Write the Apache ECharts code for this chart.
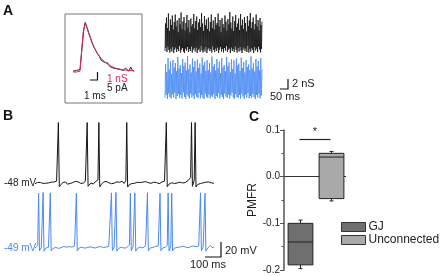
<!DOCTYPE html>
<html>
<head>
<meta charset="utf-8">
<script src="https://cdn.jsdelivr.net/npm/echarts@6/dist/echarts.min.js"></script>
<style>
  html, body { margin: 0; padding: 0; background: #fff; }
  #main { width: 446px; height: 276px; }
</style>
</head>
<body>
<div id="main"></div>
<script>
// A inset: unitary conductance, data (black) and fit (red), 0.25 ms steps
var pscDt = 0.25;
var pscData = [0.1,0.0,0.2,0.1,0.3,2.6,5.0,6.2,5.6,4.9,4.3,3.6,3.1,2.9,2.3,2.0,1.5,1.7,1.2,1.0,
  1.1,0.7,0.8,0.5,0.6,0.4,0.6,0.3,0.4,0.2,0.5,0.3,0.1,0.6,0.2,0.1];
var pscFit = [0,0,0,0,0.1,2.8,5.3,6.1,5.5,4.8,4.2,3.6,3.1,2.7,2.3,2.0,1.7,1.5,1.3,1.1,
  0.95,0.8,0.7,0.6,0.5,0.45,0.4,0.35,0.3,0.27,0.24,0.21,0.2,0.18,0.16,0.15];

// A right: total synaptic conductance (nS)
var gDtBlack = 3;
var gBlack = [
0.6,6.1,1.2,7.3,0.4,5.2,1.5,8.1,0.8,4.6,0.3,6.9,1.1,5.8,0.5,7.7,1.4,4.9,0.2,6.4,
0.9,7.9,1.3,5.5,0.4,6.7,1.0,4.4,0.6,7.2,1.6,5.9,0.3,8.3,0.9,5.0,1.2,6.5,0.5,7.4,
0.2,4.7,1.1,6.2,0.7,7.8,1.4,5.3,0.4,6.8,1.0,4.3,0.6,7.1,1.5,5.6,0.3,6.0,0.9,8.0,
1.2,5.1,0.5,6.6,1.3,7.5,0.2,4.8,0.8,6.3,1.1,7.0,0.4,5.4,1.6,8.2,0.7,6.1,0.3,4.6,
1.0,7.6,0.5,5.7,1.4,6.9,0.2,5.0,0.9,7.3,1.2,4.5,0.6,6.4,1.0,7.9,0.3,5.2,1.5,6.7,
0.8,4.9,0.4,7.4,1.1,5.8,0.6,6.2,1.3,8.1,0.2,5.5,0.9,6.8,1.4,4.4,0.5,7.2,1.0,6.0,
0.3,5.3,1.2,7.7,0.7,6.5,1.6,4.7,0.4,7.0,0.9,5.9,1.1,8.4,0.2,6.3,1.3,5.1,0.6,7.5,
1.0,4.6,0.4,6.6,1.5,7.8,0.8,5.4,0.3,6.1,1.2,7.1,0.5,4.8,1.4,8.0,0.7,5.7,0.2,6.9,
0.9,5.0,1.3,7.4,0.6,6.2,1.1,4.5,0.4,7.6,1.6,5.6,0.3,6.7,1.0,8.2,0.5,5.2,1.2,6.4,
0.8,7.3,0.2,4.9,1.4,6.0,0.7,7.9,1.1,5.5,0.4,6.8,1.5,4.7,0.9,7.2,0.3,5.8,1.0,6.5];
var gDtBlue = 3.75;
var gBlue = [
0.4,7.2,1.0,5.6,0.2,8.4,1.3,6.1,0.6,7.7,0.3,5.2,1.1,8.0,0.5,6.5,1.4,7.4,0.2,5.8,
0.8,8.6,1.2,6.3,0.4,7.0,1.0,5.4,0.3,8.2,1.5,6.8,0.6,7.5,0.2,5.9,1.1,8.8,0.7,6.2,
0.3,7.1,1.3,5.5,0.5,8.3,0.9,6.6,0.2,7.8,1.2,5.7,0.6,8.1,0.4,6.4,1.4,7.3,0.3,5.3,
1.0,8.5,0.5,6.9,0.2,7.6,1.3,5.8,0.7,8.0,0.4,6.0,1.1,7.4,0.3,5.5,0.9,8.7,0.6,6.7,
1.2,7.2,0.2,5.9,0.8,8.2,0.5,6.3,1.4,7.7,0.3,5.4,1.0,8.4,0.6,6.5,0.2,7.0,1.3,5.7,
0.7,8.6,0.4,6.8,1.1,7.5,0.3,5.6,0.9,8.1,1.5,6.2,0.5,7.9,0.2,5.3,1.2,8.3,0.6,6.9,
0.4,7.3,1.0,5.8,0.3,8.5,1.3,6.4,0.7,7.6,0.2,5.5,1.1,8.0,0.5,6.6,1.4,7.1,0.3,6.0,
0.8,8.7,0.4,6.3,1.2,7.4,0.6,5.7,0.2,8.2,1.0,6.7,0.5,7.8,1.3,5.9,0.3,8.4,0.9,6.1];

// B: membrane potential (mV), 5.6 ms steps
var vDt = 5.6;
var vBlack = [
-48.5,-47.2,-48.0,-46.8,-47.5,-48.8,-47.0,-46.5,-47.8,-48.2,-47.1,-46.9,-48.0,-47.4,-46.2,-47.6,-48.3,-47.0,-46.6,-47.9,
-47.2,-46.4,-47.5,-46.0,-45.2,-44.0,33.0,-52.5,-51.0,-49.8,-48.2,-47.0,-49.0,-47.5,-46.3,-48.1,-49.2,-47.6,-46.8,-48.4,
-47.3,-45.9,-47.0,-48.5,-46.8,-45.5,-47.2,-48.0,-46.1,-45.3,-46.9,-48.2,-47.5,-46.4,-47.8,-46.0,-45.0,-43.8,33.0,-52.0,
-51.2,-49.5,-47.8,-46.2,-47.6,-48.9,-47.3,-46.0,-45.1,-44.3,-43.5,33.0,-52.8,-51.0,-49.3,-48.0,-46.5,-45.0,-44.2,-45.6,
-46.9,-48.0,-47.2,-46.3,-47.8,-48.6,-47.5,-46.8,-47.9,-48.3,-47.0,-46.1,-47.4,-48.1,-46.7,-47.3,-46.0,-45.4,-47.0,-48.2,
-46.5,-44.6,33.0,-53.0,-51.3,-49.6,-48.1,-47.0,-48.4,-47.6,-46.5,-47.9,-48.5,-47.2,-46.7,-47.8,-46.4,-47.1,-48.0,-47.3,
-46.5,-47.6,-46.9,-45.8,-46.7,-47.9,-47.2,-46.3,-47.5,-48.1,-46.8,-45.9,-46.6,-47.7,-48.3,-47.0,-46.2,-47.4,-48.6,-47.8,
-47.0,-46.4,-47.5,-46.5,-45.3,-44.0,33.0,-52.6,-50.8,-49.2,-48.0,-48.8,-47.3,-46.1,-47.5,-48.4,-47.2,-46.3,-47.7,-48.5,
-47.4,-46.5,-47.8,-48.9,-47.6,-46.7,-47.9,-47.0,-46.2,-45.5,-44.6,-43.4,-42.0,-40.5,33.0,-52.0,-50.0,-44.0,33.0,-53.0,
-51.5,-49.6,-48.2,-47.0,-48.3,-47.1,-46.0,-47.4,-45.9,-44.8,-46.5,-47.8,-47.0,-46.3,-47.6,-48.4,-47.5,-46.9,-47.8,-48.0];
var vBlue = [
-49.5,-48.2,-47.6,-46.0,24.0,-53.0,-51.0,-48.5,-46.5,25.0,-53.5,-51.2,-49.5,-48.0,-49.2,-48.3,-47.0,24.5,-53.0,-51.5,
-50.0,-48.8,-49.6,-48.4,-47.5,-48.9,-49.8,-48.6,-47.8,-48.8,-49.5,-48.2,-47.3,-48.4,-49.3,-48.1,-47.0,-46.2,-47.5,-48.6,
-49.2,-48.0,-46.8,-47.9,-46.5,-45.0,24.0,-53.2,-51.0,-49.4,-48.2,-49.0,-48.1,-47.2,-48.5,-49.4,-48.3,-47.6,-48.8,-49.6,
-48.5,-47.8,-48.9,-49.7,-48.6,-47.5,-48.2,-49.3,-48.4,-47.1,-48.0,-49.1,-48.3,-47.4,-48.6,-49.5,-48.7,-47.6,-46.8,-48.0,
-49.0,-48.1,-47.2,-46.5,-45.4,24.5,-53.0,-51.2,-48.0,-46.0,25.0,-53.5,-51.5,-49.8,-48.5,-49.3,-48.2,-47.4,-48.6,-49.5,
-48.4,-47.6,-48.7,-47.3,-46.4,-45.2,24.0,-53.0,-50.5,-47.8,-46.2,24.5,-53.4,-51.3,-49.6,-48.4,-49.2,-48.0,-47.1,-48.3,
-49.1,-48.2,-47.0,-46.1,-45.0,24.5,-53.2,-51.0,-49.4,-48.3,-47.3,-48.5,-49.2,-48.0,-47.2,-48.4,-47.5,-46.4,-45.3,24.0,
-53.0,-51.0,-49.2,-48.0,-47.1,-48.3,-47.0,-45.5,24.5,-53.3,-50.4,-46.5,24.0,-53.0,-51.2,-49.5,-48.2,-47.4,-48.6,-47.6,
-46.8,-48.0,-48.9,-47.7,-46.9,-48.1,-49.0,-47.8,-46.7,-47.6,-48.8,-47.5,-46.4,-47.7,-48.6,-47.3,-46.5,-47.9,-48.7,-47.6,
-46.8,-47.9,-46.6,-45.4,24.5,-53.0,-50.5,-47.5,-46.0,24.0,-53.5,-51.0,-49.2,-48.1,-46.6,-45.9,-47.5,-48.7,-48.0,-48.9];

// C: PMFR box summaries [min, q1, median, q3, max]
var groups = ['GJ', 'Unconnected'];
var gjBox = [-0.197, -0.189, -0.14, -0.1, -0.093];
var unBox = [-0.052, -0.047, 0.042, 0.05, 0.054];
var sigLevel = 0.081;
var boxColors = ['#6f6f6f', '#a9a9a9'];

var black = '#151515';
var blue = '#4a8af4';
var pink = '#e2236a';

function toXY(arr, dt) {
	return arr.map(function(v, i) {
		return [i * dt, v];
	});
}

function trace(name, arr, dt, idx, color, w) {
	return {
		name: name,
		type: 'line',
		xAxisIndex: idx,
		yAxisIndex: idx,
		data: toXY(arr, dt),
		showSymbol: false,
		symbol: 'none',
		silent: true,
		lineStyle: { color: color, width: w }
	};
}

function renderBox(params, api) {
	var c = api.value(0);
	var lo = api.coord([c, api.value(1)]);
	var q1 = api.coord([c, api.value(2)]);
	var md = api.coord([c, api.value(3)]);
	var q3 = api.coord([c, api.value(4)]);
	var hi = api.coord([c, api.value(5)]);
	var w = api.size([1, 0])[0] * 0.8;
	var x = Math.round(lo[0]) + 0.5;
	var ln = { stroke: '#222', lineWidth: 1 };
	return {
		type: 'group',
		children: [
			{ type: 'line', shape: { x1: x, y1: q3[1], x2: x, y2: hi[1] }, style: ln },
			{ type: 'line', shape: { x1: x - 2, y1: hi[1], x2: x + 2, y2: hi[1] }, style: ln },
			{ type: 'line', shape: { x1: x, y1: q1[1], x2: x, y2: lo[1] }, style: ln },
			{ type: 'line', shape: { x1: x - 2, y1: lo[1], x2: x + 2, y2: lo[1] }, style: ln },
			{ type: 'rect', shape: { x: x - w / 2, y: q3[1], width: w, height: q1[1] - q3[1] },
				style: { fill: api.visual('color'), stroke: '#222', lineWidth: 1 } },
			{ type: 'line', shape: { x1: x - w / 2, y1: md[1], x2: x + w / 2, y2: md[1] }, style: ln }
		]
	};
}

var hidden = { show: false };
var font = 'Liberation Sans, Arial, sans-serif';

function txt(s, x, y, size, color, align, bold) {
	return {
		type: 'text', x: x, y: y, silent: true,
		style: {
			text: s, fill: color, align: align || 'left', verticalAlign: 'middle',
			font: (bold ? 'bold ' : '') + size + 'px ' + font
		}
	};
}

function bar(pts) {
	return { type: 'polyline', silent: true, shape: { points: pts },
		style: { stroke: '#111', lineWidth: 1.2, fill: null } };
}

var myChart = echarts.init(document.getElementById('main'));

var option = {
	backgroundColor: '#fff',
	animation: false,
	grid: [
		{ left: 65, top: 14, width: 77, height: 89, show: true, borderColor: '#777', borderWidth: 1 },
		{ left: 165, top: 12, width: 97, height: 42 },
		{ left: 165, top: 56, width: 97, height: 44 },
		{ left: 35, top: 118, width: 179, height: 72 },
		{ left: 35, top: 188, width: 179, height: 68 },
		{ left: 284, top: 130, width: 62, height: 140 }
	],
	xAxis: [
		{ gridIndex: 0, type: 'value', min: -1.14, max: 9.86, show: false },
		{ gridIndex: 1, type: 'value', min: 0, max: 597, show: false },
		{ gridIndex: 2, type: 'value', min: 0, max: 596.25, show: false },
		{ gridIndex: 3, type: 'value', min: 0, max: 1114.4, show: false },
		{ gridIndex: 4, type: 'value', min: 0, max: 1114.4, show: false },
		{ gridIndex: 5, type: 'category', data: groups, show: false }
	],
	yAxis: [
		{ gridIndex: 0, type: 'value', min: -3.875, max: 7.25, show: false },
		{ gridIndex: 1, type: 'value', min: 0, max: 8.4, show: false },
		{ gridIndex: 2, type: 'value', min: 0, max: 8.8, show: false },
		{ gridIndex: 3, type: 'value', min: -57, max: 39, show: false },
		{ gridIndex: 4, type: 'value', min: -60, max: 31, show: false },
		{
			gridIndex: 5, type: 'value', min: -0.2, max: 0.1, interval: 0.1,
			name: 'PMFR', nameLocation: 'middle', nameGap: 25,
			nameTextStyle: { fontSize: 12, color: '#222', fontFamily: font },
			axisLine: { show: true, lineStyle: { color: '#555', width: 1.5 } },
			axisTick: { show: true, length: 4, lineStyle: { color: '#555' } },
			minorTick: { show: true, splitNumber: 2, length: 2.5, lineStyle: { color: '#555' } },
			splitLine: hidden,
			axisLabel: {
				fontSize: 10, color: '#222', fontFamily: font, margin: 4,
				formatter: function(v) { return v.toFixed(1); }
			}
		}
	],
	legend: {
		data: groups,
		orient: 'vertical',
		left: 341, top: 221,
		padding: 0,
		itemWidth: 24, itemHeight: 9, itemGap: 1,
		icon: 'rect',
		selectedMode: false,
		itemStyle: { borderColor: '#333', borderWidth: 1 },
		textStyle: { fontSize: 12, color: '#222', fontFamily: font, padding: [0, 0, 0, -2] }
	},
	series: [
		trace('psc', pscData, pscDt, 0, '#222', 1),
		trace('fit', pscFit, pscDt, 0, pink, 1),
		trace('gBlack', gBlack, gDtBlack, 1, black, 0.8),
		trace('gBlue', gBlue, gDtBlue, 2, blue, 0.8),
		trace('vBlack', vBlack, vDt, 3, black, 1),
		trace('vBlue', vBlue, vDt, 4, blue, 1),
		{
			name: 'GJ', type: 'custom', xAxisIndex: 5, yAxisIndex: 5, z: 3,
			itemStyle: { color: boxColors[0] },
			encode: { x: 0, y: [1, 2, 3, 4, 5] },
			renderItem: renderBox,
			data: [[0].concat(gjBox)],
			markLine: {
				silent: true, symbol: ['none', 'none'], z: 1,
				lineStyle: { color: '#333', width: 1, type: 'solid' },
				label: { show: false },
				data: [{ yAxis: 0 }]
			}
		},
		{
			name: 'Unconnected', type: 'custom', xAxisIndex: 5, yAxisIndex: 5, z: 3,
			itemStyle: { color: boxColors[1] },
			encode: { x: 0, y: [1, 2, 3, 4, 5] },
			renderItem: renderBox,
			data: [[1].concat(unBox)],
			markLine: {
				silent: true, symbol: ['none', 'none'],
				lineStyle: { color: '#222', width: 1.2, type: 'solid' },
				label: { show: true, formatter: '*', position: 'insideMiddleTop', distance: 1,
					fontSize: 11, color: '#222', fontFamily: font },
				data: [[{ coord: [0, sigLevel] }, { coord: [1, sigLevel] }]]
			}
		}
	],
	graphic: [
		txt('A', 3, 11, 14, '#111', 'left', true),
		txt('B', 3, 116, 14, '#111', 'left', true),
		txt('C', 249, 117, 14, '#111', 'left', true),
		bar([[90, 80], [97.5, 80], [97.5, 72]]),
		txt('1 nS', 107, 79, 10, pink),
		txt('5 pA', 107, 88, 10, '#222'),
		txt('1 ms', 84, 96, 10, '#222'),
		bar([[280, 89], [288, 89], [288, 79]]),
		txt('2 nS', 292, 84, 11, '#222'),
		txt('50 ms', 270, 97, 11, '#222'),
		txt('-48 mV', 4, 183, 10, '#222'),
		txt('-49 mV', 4, 248, 10, blue),
		bar([[205, 257], [221, 257], [221, 242]]),
		txt('20 mV', 225, 251, 11, '#222'),
		txt('100 ms', 208, 265, 11, '#222', 'center')
	]
};

myChart.setOption(option);
</script>
</body>
</html>
